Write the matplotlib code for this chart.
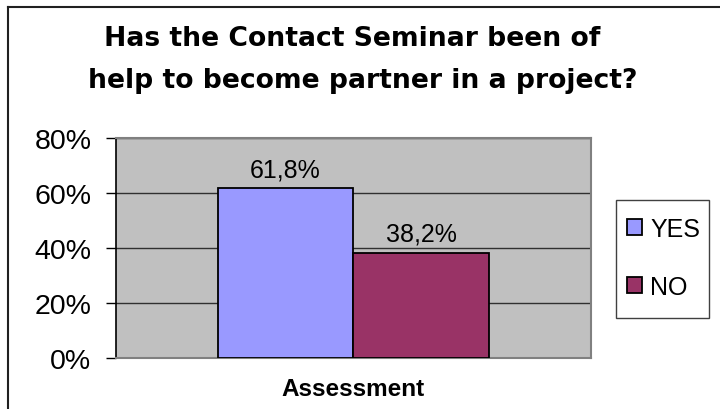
import matplotlib
matplotlib.use("Agg")
import matplotlib.pyplot as plt
from matplotlib.patches import Patch, Rectangle
from matplotlib.lines import Line2D

# ---- data ----
categories = ["Assessment"]
series_names = ["YES", "NO"]
yes_values = [61.8]
no_values = [38.2]
y_ticks = [0, 20, 40, 60, 80]
y_tick_labels = ["0%", "20%", "40%", "60%", "80%"]
title_lines = ["Has the Contact Seminar been of", "help to become partner in a project?"]

colors = ["#9999FF", "#993366"]
W, H = 720, 410

fig = plt.figure(figsize=(7.2, 4.1), dpi=100)
fig.patch.set_facecolor("white")

# outer chart border (top and left visible)
fig.add_artist(Line2D([8 / W, 1.0], [1 - 8 / H, 1 - 8 / H], transform=fig.transFigure,
                      color="#202020", lw=1.5))
fig.add_artist(Line2D([8 / W, 8 / W], [0, 1 - 8 / H], transform=fig.transFigure,
                      color="#202020", lw=1.5))

ax = fig.add_axes([116 / W, (H - 358.7) / H, (590.5 - 116) / W, (358.7 - 139) / H])
ax.set_facecolor("#C0C0C0")

bw = 0.2855
offsets = [-bw / 2, bw / 2]
series = [yes_values, no_values]
for i, (name, vals) in enumerate(zip(series_names, series)):
    xs = [c + offsets[i] for c in range(len(categories))]
    ax.bar(xs, vals, width=bw, color=colors[i], edgecolor="black", linewidth=1.3,
           zorder=3, label=name)
    for x, v in zip(xs, vals):
        ax.annotate(f"{v:.1f}%".replace(".", ","), (x, v), xytext=(0, 5),
                    textcoords="offset points", ha="center", va="bottom",
                    fontsize=18, family="Liberation Sans", zorder=4)

ax.set_xlim(-0.5, len(categories) - 0.5)
ax.set_ylim(0, 80)
ax.set_yticks(y_ticks)
ax.set_yticklabels(y_tick_labels, family="Liberation Sans", fontsize=20.5)
ax.tick_params(axis="y", direction="out", length=7.2, width=1, pad=10.5, color="black")
ax.set_xticks(range(len(categories)))
ax.set_xticklabels(categories, family="Liberation Sans", fontsize=17.5, fontweight="bold")
ax.tick_params(axis="x", length=0, pad=14)
for lbl in ax.get_xticklabels():
    lbl.set_x(lbl.get_position()[0])

ax.yaxis.grid(True, color="#303030", linewidth=1.0, zorder=1)
ax.set_axisbelow(True)
for s in ["top", "right", "bottom"]:
    ax.spines[s].set_color("#808080")
    ax.spines[s].set_linewidth(1.5)
ax.spines["left"].set_color("black")
ax.spines["left"].set_linewidth(1.2)

# title
fig.text(352 / W, (H - 46) / H, title_lines[0], ha="center", va="baseline",
         fontsize=19.2, fontweight="bold", family="DejaVu Sans")
fig.text(363 / W, (H - 88) / H, title_lines[1], ha="center", va="baseline",
         fontsize=19.2, fontweight="bold", family="DejaVu Sans")

# legend frame
fig.add_artist(Rectangle((616 / W, (H - 319) / H), 93 / W, 118 / H,
                         transform=fig.transFigure, facecolor="white",
                         edgecolor="#404040", linewidth=1.0, zorder=1))
handles = [Patch(facecolor=c, edgecolor="black", linewidth=1.3) for c in colors]
leg = fig.legend(handles, series_names, loc="center",
                 bbox_to_anchor=((616 + 709) / 2 / W + 1 / W, (H - 259) / H),
                 prop={"family": "Liberation Sans", "size": 18},
                 handlelength=0.6, handleheight=0.6, handletextpad=0.35,
                 labelspacing=1.36, borderpad=0.0, frameon=False)
leg.set_zorder(2)

fig.savefig("out.png", dpi=100, facecolor="white")
